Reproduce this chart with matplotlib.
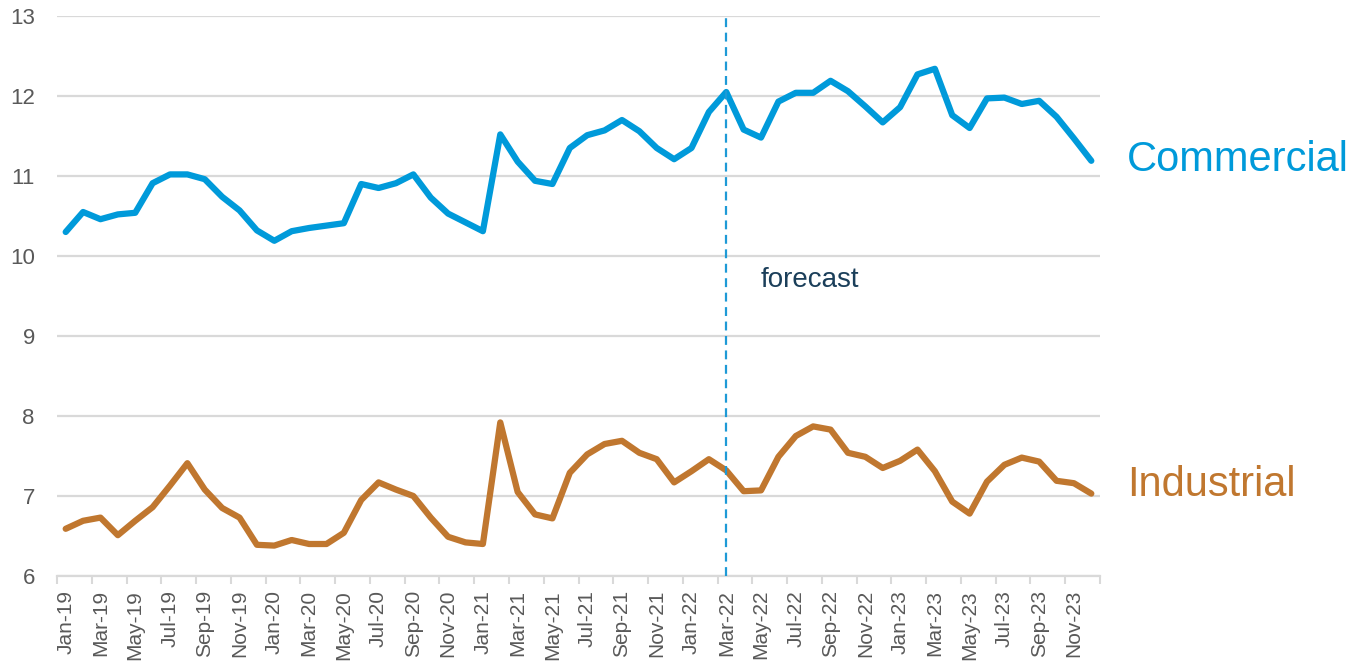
import numpy as np
import pandas as pd
import matplotlib
matplotlib.use('Agg')
import matplotlib.pyplot as plt
from matplotlib.ticker import FixedLocator

plt.rcParams['font.family'] = ['Liberation Sans', 'DejaVu Sans']

# monthly series, Jan-19 .. Dec-23
months = pd.date_range('2019-01-01', periods=60, freq='MS').strftime('%b-%y').tolist()

commercial = [10.30, 10.55, 10.46, 10.52, 10.54, 10.91, 11.02, 11.02, 10.96, 10.74, 10.57, 10.32,
              10.19, 10.31, 10.35, 10.38, 10.41, 10.90, 10.85, 10.91, 11.02, 10.73, 10.53, 10.42,
              10.31, 11.52, 11.18, 10.94, 10.90, 11.35, 11.51, 11.57, 11.70, 11.56, 11.35, 11.21,
              11.35, 11.80, 12.05, 11.58, 11.48, 11.93, 12.04, 12.04, 12.19, 12.06, 11.87, 11.67,
              11.86, 12.27, 12.34, 11.76, 11.60, 11.97, 11.98, 11.90, 11.94, 11.74, 11.47, 11.19]

industrial = [6.59, 6.69, 6.73, 6.51, 6.69, 6.86, 7.13, 7.41, 7.08, 6.85, 6.73, 6.39,
              6.38, 6.45, 6.40, 6.40, 6.54, 6.95, 7.17, 7.08, 7.00, 6.73, 6.49, 6.42,
              6.40, 7.92, 7.05, 6.77, 6.72, 7.29, 7.52, 7.65, 7.69, 7.54, 7.46, 7.17,
              7.31, 7.46, 7.32, 7.06, 7.07, 7.49, 7.75, 7.87, 7.83, 7.54, 7.49, 7.35,
              7.44, 7.58, 7.31, 6.93, 6.78, 7.18, 7.39, 7.48, 7.43, 7.19, 7.16, 7.03]

forecast_start = 'Mar-22'

blue = '#009ADA'
orange = '#C0772F'
grey_text = '#595959'
grid_col = '#D9D9D9'

fig = plt.figure(figsize=(13.61, 6.69), dpi=100)
ax = fig.add_axes([57 / 1361, 1 - 576 / 669, (1100 - 57) / 1361, (576 - 16) / 669])

x = np.arange(len(months))
ax.plot(x, commercial, color=blue, linewidth=4.5, solid_joinstyle='round', solid_capstyle='round', zorder=3)
ax.plot(x, industrial, color=orange, linewidth=4.5, solid_joinstyle='round', solid_capstyle='round', zorder=3)

# forecast marker
fx = months.index(forecast_start)
ax.axvline(fx, color='#1E9AD6', linewidth=1.6, linestyle=(0, (4, 2.5)), zorder=4)
ax.text(fx + 1.95, 9.7, 'forecast', color='#1B3F5A', fontsize=20, va='center', ha='left')

# series labels to the right
ax.text(1.026, 11.2, 'Commercial', color=blue, fontsize=30, va='center', ha='left',
        transform=ax.get_yaxis_transform(), clip_on=False)
ax.text(1.026, 7.14, 'Industrial', color=orange, fontsize=30, va='center', ha='left',
        transform=ax.get_yaxis_transform(), clip_on=False)

ax.set_xlim(-0.5, len(months) - 0.5)
ax.set_ylim(6, 13)
ax.set_yticks(range(6, 14))
ax.yaxis.grid(True, color=grid_col, linewidth=1.6)
ax.set_axisbelow(True)

ax.set_xticks(x[::2])
ax.set_xticklabels(months[::2], rotation=90, va='top', ha='center')
ax.xaxis.set_minor_locator(FixedLocator(np.arange(-0.5, len(months), 2)))
ax.tick_params(axis='x', which='major', length=0, pad=10, labelsize=15, labelcolor=grey_text)
ax.tick_params(axis='x', which='minor', length=6, width=1.5, color=grid_col, direction='out')
ax.tick_params(axis='y', length=0, pad=16, labelsize=16, labelcolor=grey_text)

for side in ['left', 'right', 'top']:
    ax.spines[side].set_visible(False)
ax.spines['bottom'].set_color(grid_col)
ax.spines['bottom'].set_linewidth(1.6)

fig.savefig('out.png', dpi=100)
